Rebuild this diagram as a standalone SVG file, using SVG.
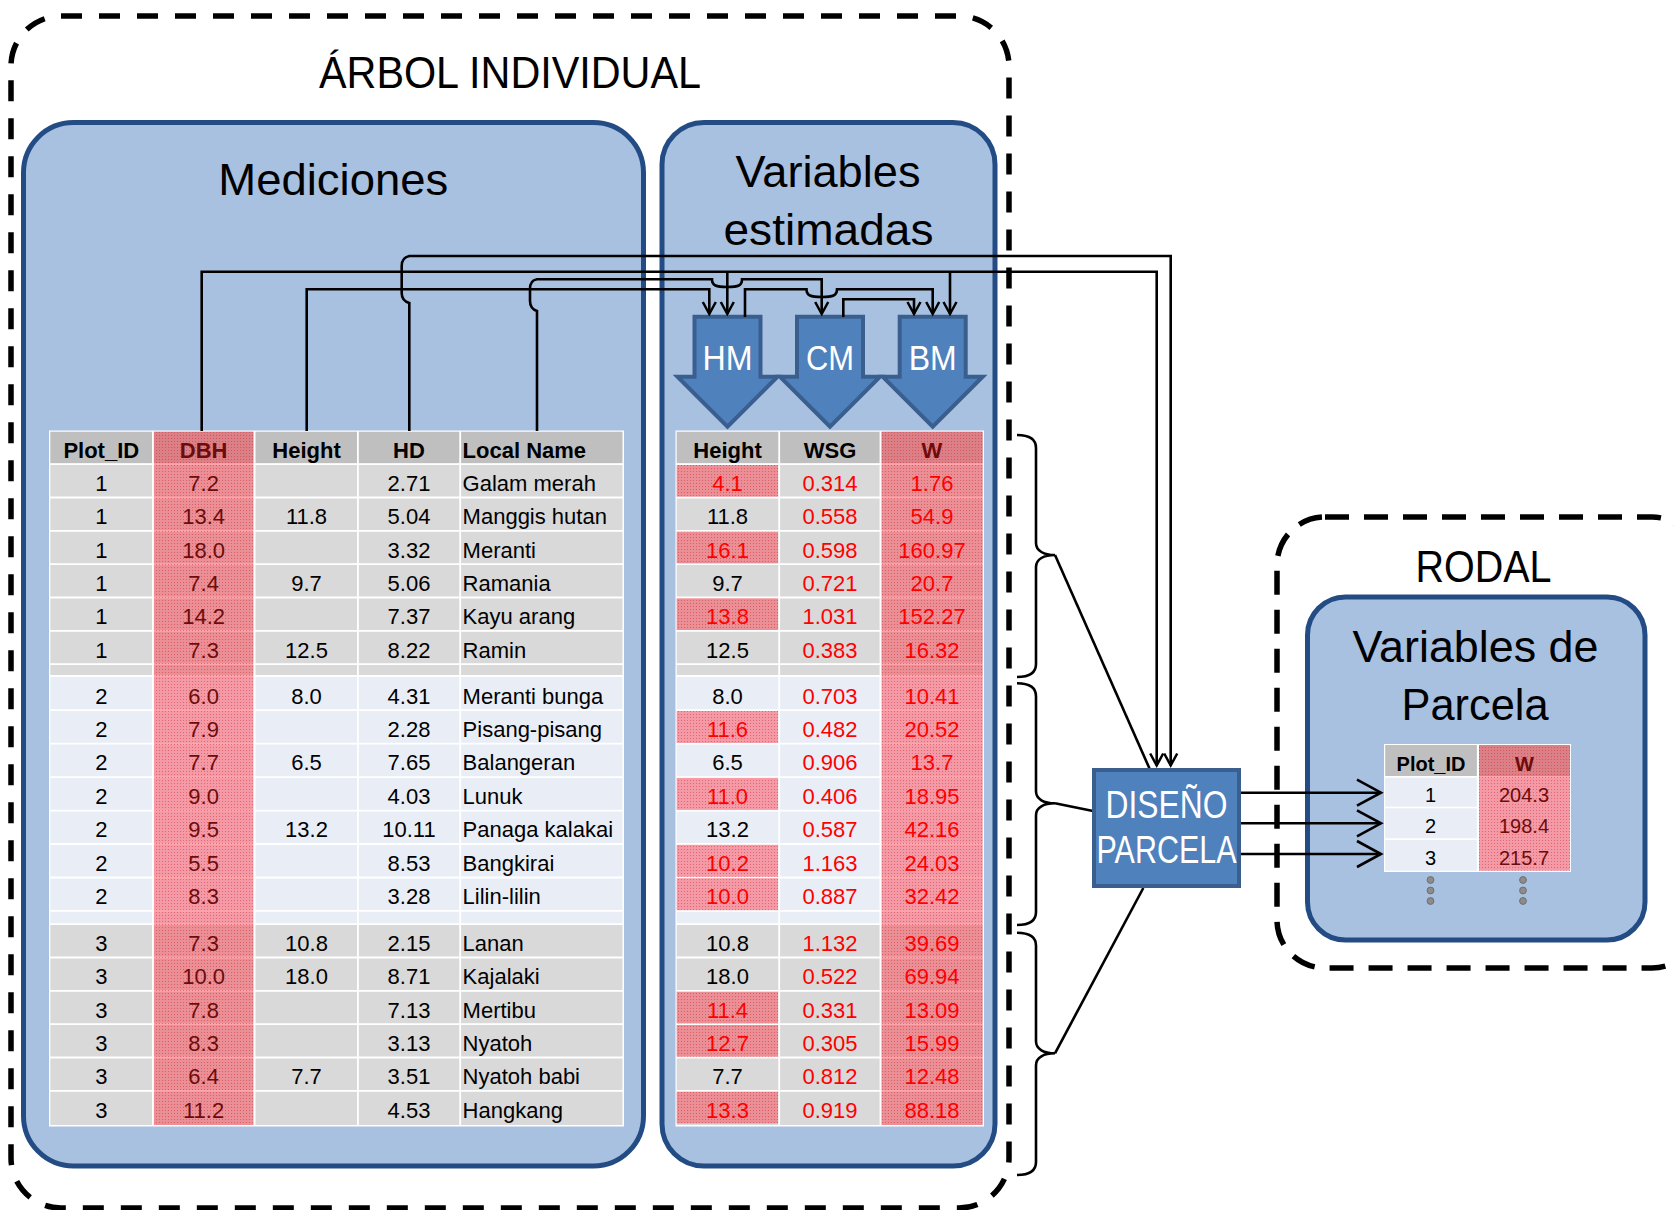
<svg xmlns="http://www.w3.org/2000/svg" width="1674" height="1210" viewBox="0 0 1674 1210">
<style>
.f{font-family:"Liberation Sans",Arial,sans-serif;}
.tb{font-size:22px;fill:#000;}
.hd{font-size:22px;font-weight:bold;fill:#000;}
.sm{font-size:20px;fill:#000;}
.smb{font-size:20px;font-weight:bold;fill:#000;}
.mid{text-anchor:middle;}
.dr{fill:#6e0b0b;}
.rd{fill:#ff0000;}
.ttl{font-size:44px;fill:#000;text-anchor:middle;}
.wt{fill:#ffffff;text-anchor:middle;}
.panel{fill:#a9c1e0;stroke:#244c84;stroke-width:5;}
.dash{fill:none;stroke:#000;stroke-width:5.5;}
.gray{fill:#d9d9d9;}
.hdr{fill:#bfbfbf;}
.blu{fill:#e9eef6;}
.pk{fill:url(#pk);}
.grid{stroke:#fff;stroke-width:1.8;fill:none;}
.model{fill:#4f81bd;stroke:#3a5f8f;stroke-width:4;}
</style>
<defs>
<pattern id="pk" width="3" height="3" patternUnits="userSpaceOnUse">
<rect width="3" height="3" fill="#ff3040" fill-opacity="0.44"/>
<rect width="1" height="1" fill="#c8000c" fill-opacity="0.35"/>
</pattern>
<marker id="a" viewBox="-16 -9 18 18" markerWidth="18" markerHeight="18" refX="0" refY="0" orient="auto" markerUnits="userSpaceOnUse" overflow="visible">
<path d="M-12,-6.5 L0,0 L-12,6.5" fill="none" stroke="#000" stroke-width="2.5"/>
</marker>
<marker id="A" viewBox="-28 -16 30 32" markerWidth="30" markerHeight="32" refX="0" refY="0" orient="auto" markerUnits="userSpaceOnUse" overflow="visible">
<path d="M-24,-13 L0,0 L-24,13" fill="none" stroke="#000" stroke-width="2.6"/>
</marker>
</defs>
<rect width="1674" height="1210" fill="#fff"/>

<g id="arbol-individual">
<rect class="dash" x="11" y="16" width="998" height="1192" rx="50" stroke-dasharray="21 17"/>
<text class="f ttl" x="510" y="88" font-size="43" textLength="382" lengthAdjust="spacingAndGlyphs">ÁRBOL INDIVIDUAL</text>
</g>

<g id="rodal">
<rect class="dash" x="1277" y="517" width="423" height="451" rx="48" stroke-dasharray="24 15"/>
<text class="f ttl" x="1483.5" y="582" font-size="42" textLength="136" lengthAdjust="spacingAndGlyphs">RODAL</text>
</g>

<g id="mediciones">
<rect class="panel" x="23.5" y="122.5" width="620" height="1043.5" rx="50"/>
<text class="f ttl" x="333.3" y="195" textLength="230" lengthAdjust="spacingAndGlyphs">Mediciones</text>
<rect x="49" y="430.5" width="575" height="696" fill="#fff"/>
<rect class="hdr" x="50.3" y="431.7" width="572.2" height="32"/>
<rect class="gray" x="50.3" y="464" width="572.2" height="212"/>
<rect class="blu" x="50.3" y="676" width="572.2" height="248"/>
<rect class="gray" x="50.3" y="924" width="572.2" height="201"/>
<path class="grid" d="M50,464.2H623M50,497.5H623M50,530.8H623M50,564.2H623M50,597.5H623M50,630.8H623M50,664.2H623M50,676H623M50,710.2H623M50,743.7H623M50,777.1H623M50,810.6H623M50,844H623M50,877.5H623M50,910.8H623M50,924.2H623M50,957.5H623M50,990.8H623M50,1024.2H623M50,1057.5H623M50,1090.8H623"/>
<rect class="pk" x="153.8" y="431.7" width="99.6" height="693.3"/>
<path class="grid" d="M152.9,431V1126M254.6,431V1126M357.9,431V1126M460.2,431V1126"/>
<text class="f hd mid" y="458.3"><tspan x="101.3">Plot_ID</tspan><tspan x="203.6" class="dr">DBH</tspan><tspan x="306.5">Height</tspan><tspan x="409">HD</tspan></text>
<text class="f hd" x="462.6" y="458.3">Local Name</text>
<text class="f tb mid"><tspan x="101.3" y="491">1</tspan><tspan x="101.3" y="524.3">1</tspan><tspan x="101.3" y="557.7">1</tspan><tspan x="101.3" y="591">1</tspan><tspan x="101.3" y="624.3">1</tspan><tspan x="101.3" y="657.7">1</tspan><tspan x="101.3" y="703.5">2</tspan><tspan x="101.3" y="737">2</tspan><tspan x="101.3" y="770.4">2</tspan><tspan x="101.3" y="803.9">2</tspan><tspan x="101.3" y="837.3">2</tspan><tspan x="101.3" y="870.8">2</tspan><tspan x="101.3" y="904.2">2</tspan><tspan x="101.3" y="951">3</tspan><tspan x="101.3" y="984.3">3</tspan><tspan x="101.3" y="1017.7">3</tspan><tspan x="101.3" y="1051">3</tspan><tspan x="101.3" y="1084.3">3</tspan><tspan x="101.3" y="1117.7">3</tspan></text>
<text class="f tb mid dr"><tspan x="203.6" y="491">7.2</tspan><tspan x="203.6" y="524.3">13.4</tspan><tspan x="203.6" y="557.7">18.0</tspan><tspan x="203.6" y="591">7.4</tspan><tspan x="203.6" y="624.3">14.2</tspan><tspan x="203.6" y="657.7">7.3</tspan><tspan x="203.6" y="703.5">6.0</tspan><tspan x="203.6" y="737">7.9</tspan><tspan x="203.6" y="770.4">7.7</tspan><tspan x="203.6" y="803.9">9.0</tspan><tspan x="203.6" y="837.3">9.5</tspan><tspan x="203.6" y="870.8">5.5</tspan><tspan x="203.6" y="904.2">8.3</tspan><tspan x="203.6" y="951">7.3</tspan><tspan x="203.6" y="984.3">10.0</tspan><tspan x="203.6" y="1017.7">7.8</tspan><tspan x="203.6" y="1051">8.3</tspan><tspan x="203.6" y="1084.3">6.4</tspan><tspan x="203.6" y="1117.7">11.2</tspan></text>
<text class="f tb mid"><tspan x="306.5" y="524.3">11.8</tspan><tspan x="306.5" y="591">9.7</tspan><tspan x="306.5" y="657.7">12.5</tspan><tspan x="306.5" y="703.5">8.0</tspan><tspan x="306.5" y="770.4">6.5</tspan><tspan x="306.5" y="837.3">13.2</tspan><tspan x="306.5" y="951">10.8</tspan><tspan x="306.5" y="984.3">18.0</tspan><tspan x="306.5" y="1084.3">7.7</tspan></text>
<text class="f tb mid"><tspan x="409" y="491">2.71</tspan><tspan x="409" y="524.3">5.04</tspan><tspan x="409" y="557.7">3.32</tspan><tspan x="409" y="591">5.06</tspan><tspan x="409" y="624.3">7.37</tspan><tspan x="409" y="657.7">8.22</tspan><tspan x="409" y="703.5">4.31</tspan><tspan x="409" y="737">2.28</tspan><tspan x="409" y="770.4">7.65</tspan><tspan x="409" y="803.9">4.03</tspan><tspan x="409" y="837.3">10.11</tspan><tspan x="409" y="870.8">8.53</tspan><tspan x="409" y="904.2">3.28</tspan><tspan x="409" y="951">2.15</tspan><tspan x="409" y="984.3">8.71</tspan><tspan x="409" y="1017.7">7.13</tspan><tspan x="409" y="1051">3.13</tspan><tspan x="409" y="1084.3">3.51</tspan><tspan x="409" y="1117.7">4.53</tspan></text>
<text class="f tb"><tspan x="462.6" y="491">Galam merah</tspan><tspan x="462.6" y="524.3">Manggis hutan</tspan><tspan x="462.6" y="557.7">Meranti</tspan><tspan x="462.6" y="591">Ramania</tspan><tspan x="462.6" y="624.3">Kayu arang</tspan><tspan x="462.6" y="657.7">Ramin</tspan><tspan x="462.6" y="703.5">Meranti bunga</tspan><tspan x="462.6" y="737">Pisang-pisang</tspan><tspan x="462.6" y="770.4">Balangeran</tspan><tspan x="462.6" y="803.9">Lunuk</tspan><tspan x="462.6" y="837.3">Panaga kalakai</tspan><tspan x="462.6" y="870.8">Bangkirai</tspan><tspan x="462.6" y="904.2">Lilin-lilin</tspan><tspan x="462.6" y="951">Lanan</tspan><tspan x="462.6" y="984.3">Kajalaki</tspan><tspan x="462.6" y="1017.7">Mertibu</tspan><tspan x="462.6" y="1051">Nyatoh</tspan><tspan x="462.6" y="1084.3">Nyatoh babi</tspan><tspan x="462.6" y="1117.7">Hangkang</tspan></text>
</g>

<g id="variables-estimadas">
<rect class="panel" x="662" y="122.5" width="333" height="1043.5" rx="42"/>
<text class="f ttl" x="828" y="187" textLength="185" lengthAdjust="spacingAndGlyphs">Variables</text>
<text class="f ttl" x="828.5" y="245" textLength="210" lengthAdjust="spacingAndGlyphs">estimadas</text>
<rect x="675.5" y="430.5" width="308.5" height="696" fill="#fff"/>
<rect class="hdr" x="676.7" y="431.7" width="306" height="32"/>
<rect class="gray" x="676.7" y="464" width="306" height="212"/>
<rect class="blu" x="676.7" y="676" width="306" height="248"/>
<rect class="gray" x="676.7" y="924" width="306" height="201"/>
<path class="grid" d="M676,464.2H984M676,497.5H984M676,530.8H984M676,564.2H984M676,597.5H984M676,630.8H984M676,664.2H984M676,676H984M676,710.2H984M676,743.7H984M676,777.1H984M676,810.6H984M676,844H984M676,877.5H984M676,910.8H984M676,924.2H984M676,957.5H984M676,990.8H984M676,1024.2H984M676,1057.5H984M676,1090.8H984"/>
<rect class="pk" x="881.3" y="431.7" width="101.4" height="693.3"/>
<rect class="pk" x="676.7" y="465" width="101.6" height="31.7"/>
<rect class="pk" x="676.7" y="531.7" width="101.6" height="31.7"/>
<rect class="pk" x="676.7" y="598.3" width="101.6" height="31.7"/>
<rect class="pk" x="676.7" y="711" width="101.6" height="32"/>
<rect class="pk" x="676.7" y="777.9" width="101.6" height="32"/>
<rect class="pk" x="676.7" y="844.8" width="101.6" height="32"/>
<rect class="pk" x="676.7" y="878.2" width="101.6" height="32"/>
<rect class="pk" x="676.7" y="991.7" width="101.6" height="31.7"/>
<rect class="pk" x="676.7" y="1025" width="101.6" height="31.7"/>
<rect class="pk" x="676.7" y="1091.7" width="101.6" height="31.7"/>
<path class="grid" d="M779.2,431V1126M880.5,431V1126"/>
<text class="f hd mid" y="458.3"><tspan x="727.5">Height</tspan><tspan x="830">WSG</tspan><tspan x="932" class="dr">W</tspan></text>
<text class="f tb mid"><tspan x="727.5" y="491" class="rd">4.1</tspan><tspan x="727.5" y="524.3">11.8</tspan><tspan x="727.5" y="557.7" class="rd">16.1</tspan><tspan x="727.5" y="591">9.7</tspan><tspan x="727.5" y="624.3" class="rd">13.8</tspan><tspan x="727.5" y="657.7">12.5</tspan><tspan x="727.5" y="703.5">8.0</tspan><tspan x="727.5" y="737" class="rd">11.6</tspan><tspan x="727.5" y="770.4">6.5</tspan><tspan x="727.5" y="803.9" class="rd">11.0</tspan><tspan x="727.5" y="837.3">13.2</tspan><tspan x="727.5" y="870.8" class="rd">10.2</tspan><tspan x="727.5" y="904.2" class="rd">10.0</tspan><tspan x="727.5" y="951">10.8</tspan><tspan x="727.5" y="984.3">18.0</tspan><tspan x="727.5" y="1017.7" class="rd">11.4</tspan><tspan x="727.5" y="1051" class="rd">12.7</tspan><tspan x="727.5" y="1084.3">7.7</tspan><tspan x="727.5" y="1117.7" class="rd">13.3</tspan></text>
<text class="f tb mid rd"><tspan x="830" y="491">0.314</tspan><tspan x="830" y="524.3">0.558</tspan><tspan x="830" y="557.7">0.598</tspan><tspan x="830" y="591">0.721</tspan><tspan x="830" y="624.3">1.031</tspan><tspan x="830" y="657.7">0.383</tspan><tspan x="830" y="703.5">0.703</tspan><tspan x="830" y="737">0.482</tspan><tspan x="830" y="770.4">0.906</tspan><tspan x="830" y="803.9">0.406</tspan><tspan x="830" y="837.3">0.587</tspan><tspan x="830" y="870.8">1.163</tspan><tspan x="830" y="904.2">0.887</tspan><tspan x="830" y="951">1.132</tspan><tspan x="830" y="984.3">0.522</tspan><tspan x="830" y="1017.7">0.331</tspan><tspan x="830" y="1051">0.305</tspan><tspan x="830" y="1084.3">0.812</tspan><tspan x="830" y="1117.7">0.919</tspan></text>
<text class="f tb mid rd"><tspan x="932" y="491">1.76</tspan><tspan x="932" y="524.3">54.9</tspan><tspan x="932" y="557.7">160.97</tspan><tspan x="932" y="591">20.7</tspan><tspan x="932" y="624.3">152.27</tspan><tspan x="932" y="657.7">16.32</tspan><tspan x="932" y="703.5">10.41</tspan><tspan x="932" y="737">20.52</tspan><tspan x="932" y="770.4">13.7</tspan><tspan x="932" y="803.9">18.95</tspan><tspan x="932" y="837.3">42.16</tspan><tspan x="932" y="870.8">24.03</tspan><tspan x="932" y="904.2">32.42</tspan><tspan x="932" y="951">39.69</tspan><tspan x="932" y="984.3">69.94</tspan><tspan x="932" y="1017.7">13.09</tspan><tspan x="932" y="1051">15.99</tspan><tspan x="932" y="1084.3">12.48</tspan><tspan x="932" y="1117.7">88.18</tspan></text>
</g>

<g id="HM">
<path class="model" d="M694.5,316.7H760.5V376.7H777.5L727.5,426.7L677.5,376.7H694.5Z"/>
<text class="f wt" x="727.5" y="370" font-size="35" textLength="50" lengthAdjust="spacingAndGlyphs">HM</text>
</g>
<g id="CM">
<path class="model" d="M797,316.7H863V376.7H880L830,426.7L780,376.7H797Z"/>
<text class="f wt" x="830" y="370" font-size="35" textLength="48" lengthAdjust="spacingAndGlyphs">CM</text>
</g>
<g id="BM">
<path class="model" d="M899.7,316.7H965.7V376.7H982.7L932.7,426.7L882.7,376.7H899.7Z"/>
<text class="f wt" x="932.7" y="370" font-size="35" textLength="48" lengthAdjust="spacingAndGlyphs">BM</text>
</g>

<g id="variables-de-parcela">
<rect class="panel" x="1307.5" y="597" width="337.5" height="343" rx="38"/>
<text class="f ttl" x="1475.5" y="662" textLength="246" lengthAdjust="spacingAndGlyphs">Variables de</text>
<text class="f ttl" x="1475" y="720" textLength="147" lengthAdjust="spacingAndGlyphs">Parcela</text>
<rect x="1384" y="744" width="187" height="128" fill="#fff"/>
<rect class="hdr" x="1385.2" y="745" width="91.7" height="31"/>
<rect class="hdr" x="1479" y="745" width="91" height="31"/>
<rect class="blu" x="1385.2" y="777.7" width="91.7" height="29"/>
<rect class="blu" x="1385.2" y="808.3" width="91.7" height="30"/>
<rect class="blu" x="1385.2" y="840" width="91.7" height="30.7"/>
<rect class="blu" x="1479" y="777.7" width="91" height="93"/>
<rect class="pk" x="1479" y="745" width="91" height="125.7"/>
<text class="f smb mid" y="771"><tspan x="1431">Plot_ID</tspan><tspan x="1524.5" class="dr">W</tspan></text>
<text class="f sm mid"><tspan x="1430.5" y="801.5">1</tspan><tspan x="1430.5" y="833">2</tspan><tspan x="1430.5" y="864.5">3</tspan></text>
<text class="f sm mid dr"><tspan x="1524" y="801.5">204.3</tspan><tspan x="1524" y="833">198.4</tspan><tspan x="1524" y="864.5">215.7</tspan></text>
<g fill="#8c8c8c" stroke="#6e6e6e" stroke-width="1">
<circle cx="1430.5" cy="880" r="3.4"/><circle cx="1430.5" cy="890.5" r="3.4"/><circle cx="1430.5" cy="901" r="3.4"/>
<circle cx="1523" cy="880" r="3.4"/><circle cx="1523" cy="890.5" r="3.4"/><circle cx="1523" cy="901" r="3.4"/>
</g>
</g>

<g id="connectors" fill="none" stroke="#000" stroke-width="2.6">
<path d="M201.7,431V271.7H1156.7V765.5" marker-end="url(#a)"/>
<path d="M727.3,271.7V314" marker-end="url(#a)"/>
<path d="M950,271.7V314" marker-end="url(#a)"/>
<path d="M306.7,431V289.3H709.3V314" marker-end="url(#a)"/>
<path d="M409.3,431V303C404.5,301.5 401.7,298 401.7,293V266C401.7,260 404.5,257 409.3,256H1170.7V765.5" marker-end="url(#a)"/>
<path d="M537,431V311C532.5,309.5 530,306 530,301V289C530,283.5 532.5,280 537,279.3H712C712,285.5 716,287 727.3,287C738.5,287 742,285.5 742,279.3H821.7V314" marker-end="url(#a)"/>
<path d="M745,317V289.3H806.5C806.5,295.5 810.5,297 821.7,297C833,297 837,295.5 837,289.3H932.7V314" marker-end="url(#a)"/>
<path d="M843.3,317V299.3H914V314" marker-end="url(#a)"/>
<path d="M1017,435C1030,435 1036,439 1036,448V543C1036,551 1044,555 1055,555C1044,555 1036,559 1036,567V664C1036,673 1030,677 1017,677"/>
<path d="M1017,683.3C1030,683.3 1036,687.3 1036,696.3V791.3C1036,799.3 1044,803.3 1055,803.3C1044,803.3 1036,807.3 1036,815.3V912C1036,921 1030,925 1017,925"/>
<path d="M1017,932.7C1030,932.7 1036,936.7 1036,945.7V1041.3C1036,1049.3 1044,1053.3 1055,1053.3C1044,1053.3 1036,1057.3 1036,1065.3V1162C1036,1171 1030,1175 1017,1175"/>
<path d="M1055,555L1149.4,768.3"/>
<path d="M1055,803.3L1093,811"/>
<path d="M1055,1053.3L1143.3,888"/>
<path d="M1241,792.7H1381" marker-end="url(#A)"/>
<path d="M1241,823.3H1381" marker-end="url(#A)"/>
<path d="M1241,854H1381" marker-end="url(#A)"/>
</g>

<g id="diseno-parcela">
<rect class="model" x="1094" y="770" width="145" height="116"/>
<text class="f wt" x="1166.5" y="818" font-size="38" textLength="122" lengthAdjust="spacingAndGlyphs">DISEÑO</text>
<text class="f wt" x="1166.5" y="863" font-size="38" textLength="140" lengthAdjust="spacingAndGlyphs">PARCELA</text>
</g>
</svg>
